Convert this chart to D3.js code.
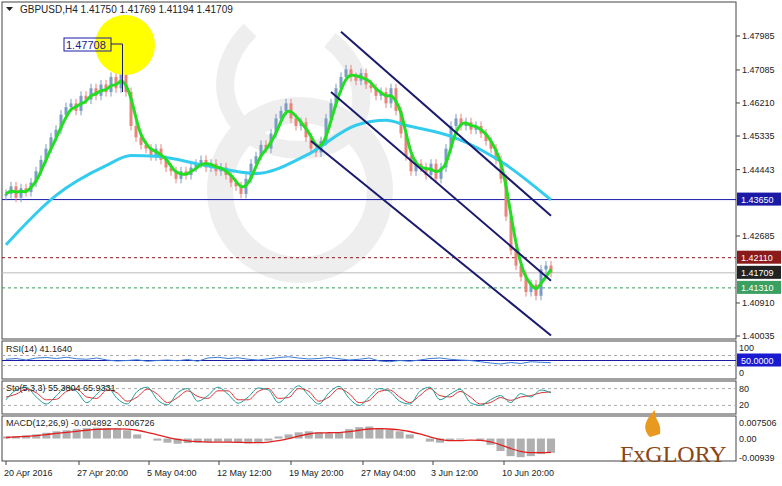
<!DOCTYPE html><html><head><meta charset="utf-8">
<script src="https://cdn.jsdelivr.net/npm/d3@7"></script>
<style>body{margin:0;background:#fff}text{font-family:"Liberation Sans",Arial,sans-serif}</style></head><body>
<svg id="c" width="782" height="486"></svg>
<script>
const closes=[1.4380,1.4400,1.4370,1.4395,1.4385,1.4410,1.4440,1.4470,1.4500,1.4530,1.4550,1.4590,1.4610,1.4620,1.4600,1.4640,1.4630,1.4660,1.4640,1.4670,1.4650,1.4690,1.4660,1.4700,1.4650,1.4560,1.4530,1.4510,1.4500,1.4480,1.4500,1.4470,1.4450,1.4440,1.4420,1.4440,1.4430,1.4450,1.4460,1.4470,1.4450,1.4460,1.4440,1.4450,1.4430,1.4410,1.4400,1.4380,1.4420,1.4460,1.4480,1.4510,1.4500,1.4540,1.4580,1.4600,1.4620,1.4580,1.4560,1.4570,1.4530,1.4500,1.4490,1.4520,1.4580,1.4620,1.4660,1.4690,1.4710,1.4690,1.4680,1.4700,1.4670,1.4660,1.4640,1.4650,1.4620,1.4660,1.4600,1.4540,1.4480,1.4440,1.4460,1.4450,1.4430,1.4460,1.4420,1.4450,1.4500,1.4560,1.4580,1.4560,1.4570,1.4550,1.4560,1.4540,1.4520,1.4500,1.4470,1.4420,1.4320,1.4230,1.4190,1.4160,1.4120,1.4140,1.4110,1.4180,1.4190,1.41709];
const slowMA=[[0,1.4245],[10,1.4376],[20,1.4455],[25,1.4482],[30,1.4480],[40,1.4455],[50,1.4434],[60,1.4482],[70,1.4562],[76,1.4575],[80,1.4562],[90,1.4528],[100,1.4457],[109,1.4364]];
const channels=[[[67,1.4810],[109,1.4322]],[[65,1.4650],[109,1.4150]],[[61,1.4520],[109,1.4005]]];
const priceTicks=[1.47985,1.47085,1.46210,1.45335,1.44443,1.42685,1.40910,1.40035];
const levels=[{v:1.43650,c:"#1a1aa6",box:"#1a1aa6",dash:null},{v:1.42110,c:"#8b1a1a",box:"#8b1a1a",dash:"3,3"},{v:1.41709,c:"#bbb",box:"#222",dash:null},{v:1.41310,c:"#3a9a5a",box:"#3aa060",dash:"3,3"}];
const dateLabels=["20 Apr 2016","27 Apr 20:00","5 May 04:00","12 May 12:00","19 May 20:00","27 May 04:00","3 Jun 12:00","10 Jun 20:00"];
const dateIdx=[0,14.6,28.6,42.6,57,71.4,85.4,99.6];
const rsi=[55,58,52,60,62,58,63,57,55,60,52,48,50,53,47,50,52,49,54,47,60,63,58,61,55,52,57,62,65,60,56,58,62,57,52,55,60,48,45,50,47,52,58,60,55,52,50,45,40,36,42,38,45,43,41];
const stochK=[40,75,85,50,25,55,85,70,30,60,88,45,25,70,85,40,22,65,80,35,55,85,60,28,50,82,75,30,60,90,55,25,65,88,45,20,50,80,70,35,25,70,85,40,60,78,30,20,40,55,30,62,50,75,65];
const stochD=[50,60,78,65,40,42,70,78,50,45,75,65,35,50,78,60,30,48,72,52,45,72,72,40,40,70,80,45,48,80,70,35,50,80,62,30,38,70,75,50,30,55,80,55,50,70,50,25,30,48,38,50,55,65,68];
const macdHist=[0.001,0.0012,0.0015,0.002,0.0028,0.0035,0.004,0.0045,0.005,0.0052,0.005,0.0048,0.004,0.002,0.0,-0.001,-0.002,-0.0025,-0.0022,-0.002,-0.0018,-0.0015,-0.0016,-0.002,-0.0023,-0.002,-0.001,0.001,0.002,0.003,0.0035,0.003,0.0025,0.003,0.0045,0.0055,0.0058,0.005,0.0042,0.0035,0.002,0.0,-0.0015,-0.002,-0.0012,-0.0005,0.0,-0.001,-0.003,-0.006,-0.0085,-0.009,-0.0085,-0.0075,-0.0069];
const macdSig=[0.0005,0.0008,0.001,0.0014,0.0019,0.0025,0.003,0.0035,0.004,0.0044,0.0046,0.0047,0.0045,0.004,0.003,0.0018,0.0006,-0.0004,-0.0011,-0.0015,-0.0017,-0.0017,-0.0017,-0.0018,-0.002,-0.002,-0.0017,-0.001,0.0,0.0012,0.0022,0.0027,0.0028,0.0029,0.0033,0.004,0.0046,0.0048,0.0046,0.0042,0.0034,0.0022,0.0008,-0.0004,-0.001,-0.001,-0.0008,-0.0009,-0.0016,-0.003,-0.0048,-0.0062,-0.0068,-0.0068,-0.0067];

const svg=d3.select("#c");
const L=2,R=736,FS=9;
const x=d3.scaleLinear().domain([0,109]).range([6,551]);
const y=d3.scaleLinear().domain([1.40035,1.47985]).range([336,36]);
const panels=[[2,339],[341,379],[381,414],[416,461]];
const wm=svg.append("g").attr("opacity",0.12);
wm.append("circle").attr("cx",300).attr("cy",190).attr("r",80).attr("fill","none").attr("stroke","#777").attr("stroke-width",26);
wm.append("path").attr("d","M250,30 C200,80 230,150 300,150 C370,150 380,80 330,40").attr("fill","none").attr("stroke","#777").attr("stroke-width",18);
panels.forEach(p=>svg.append("rect").attr("x",L).attr("y",p[0]).attr("width",R-L).attr("height",p[1]-p[0]).attr("fill","none").attr("stroke","#444"));
levels.forEach(l=>svg.append("line").attr("x1",L).attr("x2",R).attr("y1",y(l.v)).attr("y2",y(l.v)).attr("stroke",l.c).attr("stroke-dasharray",l.dash));
const g=svg.append("g");
closes.forEach((c,i)=>{const o=i?closes[i-1]:c-0.0005;const up=c>=o;const col=up?"#7d9cc4":"#e8847a";
 const hi=Math.max(o,c)+0.0012,lo=Math.min(o,c)-0.0012;
 g.append("line").attr("x1",x(i)).attr("x2",x(i)).attr("y1",y(hi)).attr("y2",y(lo)).attr("stroke",col);
 g.append("rect").attr("x",x(i)-1.5).attr("width",3).attr("y",y(Math.max(o,c))).attr("height",Math.max(1,y(Math.min(o,c))-y(Math.max(o,c)))).attr("fill",col);});
const fast=closes.map((c,i)=>d3.mean(closes.slice(Math.max(0,i-2),i+1)));
svg.append("path").datum(slowMA).attr("d",d3.line().x(d=>x(d[0])).y(d=>y(d[1])).curve(d3.curveMonotoneX)).attr("fill","none").attr("stroke","#33ccee").attr("stroke-width",3);
svg.append("path").datum(fast).attr("d",d3.line().x((d,i)=>x(i)).y(d=>y(d)).curve(d3.curveBasis)).attr("fill","none").attr("stroke","#22dd22").attr("stroke-width",3);
channels.forEach(ch=>svg.append("line").attr("x1",x(ch[0][0])).attr("y1",y(ch[0][1])).attr("x2",x(ch[1][0])).attr("y2",y(ch[1][1])).attr("stroke","#1a1a6e").attr("stroke-width",2));
svg.append("circle").attr("cx",125).attr("cy",45).attr("r",30).attr("fill","#ffff00");
svg.append("line").attr("x1",x(23.3)).attr("x2",x(23.3)).attr("y1",44).attr("y2",y(1.4650)).attr("stroke","#1a1a6e");
svg.append("line").attr("x1",111).attr("x2",x(23.3)).attr("y1",44).attr("y2",44).attr("stroke","#1a1a6e");
svg.append("rect").attr("x",64).attr("y",38).attr("width",47).attr("height",13).attr("fill","none").attr("stroke","#1a1aa6");
svg.append("text").attr("x",66).attr("y",49).text("1.47708").attr("font-size",11).attr("fill","#1a1a8a");
svg.append("path").attr("d","M6,7 L13,7 L9.5,11Z").attr("fill","#222");
svg.append("text").attr("x",20).attr("y",13).text("GBPUSD,H4  1.41750 1.41769 1.41194 1.41709").attr("font-size",10).attr("fill","#222");
priceTicks.forEach(t=>{svg.append("line").attr("x1",R).attr("x2",R+4).attr("y1",y(t)).attr("y2",y(t)).attr("stroke","#444");
 svg.append("text").attr("x",R+6).attr("y",y(t)+3).text(t.toFixed(5)).attr("font-size",FS).attr("fill","#222");});
levels.forEach(l=>{svg.append("rect").attr("x",R+1).attr("y",y(l.v)-7).attr("width",44).attr("height",13).attr("fill",l.box);
 svg.append("text").attr("x",R+5).attr("y",y(l.v)+3).text(l.v.toFixed(5)).attr("font-size",FS).attr("fill","#fff");});
const xs=d3.scaleLinear().domain([0,54]).range([6,551]);
const ry=d3.scaleLinear().domain([0,100]).range([373,348]);
[70,30].forEach(v=>svg.append("line").attr("x1",L).attr("x2",R).attr("y1",ry(v)).attr("y2",ry(v)).attr("stroke","#aaa").attr("stroke-dasharray","3,3"));
svg.append("line").attr("x1",L).attr("x2",R).attr("y1",ry(50)).attr("y2",ry(50)).attr("stroke","#1a1aa6");
svg.append("path").datum(rsi).attr("d",d3.line().x((d,i)=>xs(i)).y(d=>ry(d))).attr("fill","none").attr("stroke","#3a7ad8");
svg.append("text").attr("x",6).attr("y",352).text("RSI(14) 41.1640").attr("font-size",FS).attr("fill","#222");
[["100",100],["0",0]].forEach(t=>svg.append("text").attr("x",R+3).attr("y",ry(t[1])+3).text(t[0]).attr("font-size",FS).attr("fill","#222"));
svg.append("rect").attr("x",R+1).attr("y",ry(50)-7).attr("width",44).attr("height",13).attr("fill","#1a1ad0");
svg.append("text").attr("x",R+5).attr("y",ry(50)+3).text("50.0000").attr("font-size",FS).attr("fill","#fff");
const sy=d3.scaleLinear().domain([0,100]).range([411,383]);
[80,20].forEach(v=>svg.append("line").attr("x1",L).attr("x2",R).attr("y1",sy(v)).attr("y2",sy(v)).attr("stroke","#aaa").attr("stroke-dasharray","3,3"));
svg.append("path").datum(stochD).attr("d",d3.line().x((d,i)=>xs(i)).y(d=>sy(d)).curve(d3.curveMonotoneX)).attr("fill","none").attr("stroke","#e03030");
svg.append("path").datum(stochK).attr("d",d3.line().x((d,i)=>xs(i)).y(d=>sy(d)).curve(d3.curveMonotoneX)).attr("fill","none").attr("stroke","#1a9a9a");
svg.append("text").attr("x",6).attr("y",391).text("Sto(5,3,3) 55.3804 65.9331").attr("font-size",FS).attr("fill","#222");
[["80",80],["20",20]].forEach(t=>svg.append("text").attr("x",R+3).attr("y",sy(t[1])+3).text(t[0]).attr("font-size",FS).attr("fill","#222"));
const my=d3.scaleLinear().domain([-0.009392,0.007506]).range([458,423]);
const bw=(xs(1)-xs(0))*0.8;
macdHist.forEach((v,i)=>svg.append("rect").attr("x",xs(i)-bw/2).attr("width",bw).attr("y",my(Math.max(0,v))).attr("height",Math.abs(my(v)-my(0))).attr("fill","#b0b0b0"));
svg.append("path").datum(macdSig).attr("d",d3.line().x((d,i)=>xs(i)).y(d=>my(d)).curve(d3.curveMonotoneX)).attr("fill","none").attr("stroke","#e02020").attr("stroke-width",1.3);
svg.append("text").attr("x",6).attr("y",426).text("MACD(12,26,9) -0.004892 -0.006726").attr("font-size",FS).attr("fill","#222");
[[0.007506,"0.007506"],[0,"0.00"],[-0.009392,"-0.00939"]].forEach(t=>svg.append("text").attr("x",R+3).attr("y",my(t[0])+3).text(t[1]).attr("font-size",FS).attr("fill","#222"));
dateIdx.forEach((d,i)=>{svg.append("line").attr("x1",x(d)).attr("x2",x(d)).attr("y1",461).attr("y2",465).attr("stroke","#444");
 svg.append("text").attr("x",x(d)-2).attr("y",476).text(dateLabels[i]).attr("font-size",FS).attr("fill","#222");});
svg.append("path").attr("d","M650,437 C640,427 648,417 655,410 C654,420 662,422 660,434 Z").attr("fill","#e89a20");
svg.append("text").attr("x",620).attr("y",462).text("FxGLORY").style("font-family","'Liberation Serif',serif").attr("font-size",24).attr("fill","#8b4513");
</script></body></html>
